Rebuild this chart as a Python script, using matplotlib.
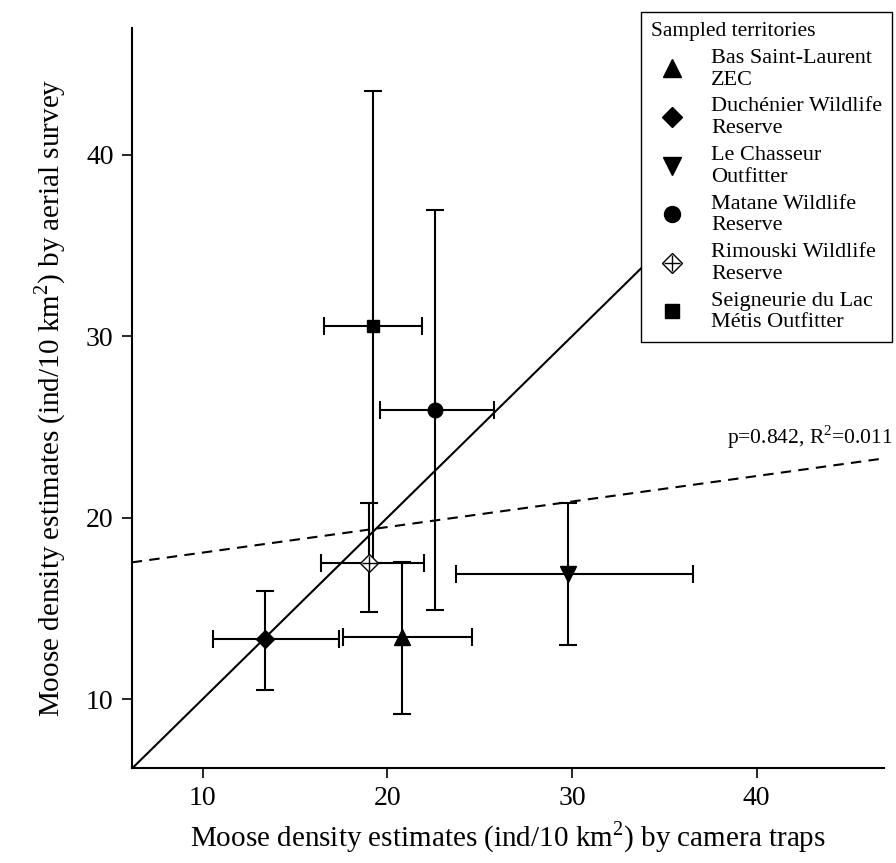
import matplotlib
matplotlib.use("Agg")
import matplotlib.pyplot as plt
from matplotlib.legend_handler import HandlerTuple
from matplotlib.lines import Line2D

plt.rcParams['font.family'] = ['Liberation Serif', 'DejaVu Serif']
plt.rcParams['mathtext.fontset'] = 'custom'
plt.rcParams['mathtext.rm'] = 'Liberation Serif'

# Data
territories = ["Bas Saint-Laurent\nZEC", "Duchénier Wildlife\nReserve",
               "Le Chasseur\nOutfitter", "Matane Wildlife\nReserve",
               "Rimouski Wildlife\nReserve", "Seigneurie du Lac\nMétis Outfitter"]
cam = [20.78, 13.39, 29.80, 22.59, 19.00, 19.20]
cam_lo = [17.61, 10.57, 23.71, 19.59, 16.40, 16.58]
cam_hi = [24.61, 17.39, 36.53, 25.80, 21.99, 21.90]
aer = [13.43, 13.30, 16.88, 25.94, 17.50, 30.57]
aer_lo = [9.17, 10.48, 12.97, 14.90, 14.79, 17.50]
aer_hi = [17.58, 15.98, 20.83, 36.98, 20.83, 43.52]
markers = ['^', 'D', 'v', 'o', 'D', 's']
msizes = [11.5, 9, 11.5, 10.5, 9, 8.5]

reg_slope = 0.1407
reg_intercept = 16.67
xlim = (6.16, 46.9)
ylim = (6.2, 47.0)

fig = plt.figure(figsize=(8.96, 8.63), dpi=100)
ax = fig.add_axes([0.147, 0.110, 0.8396, 0.8577])

handles = []
for i in range(len(cam)):
    xe = [[cam[i] - cam_lo[i]], [cam_hi[i] - cam[i]]]
    ye = [[aer[i] - aer_lo[i]], [aer_hi[i] - aer[i]]]
    ax.errorbar([cam[i]], [aer[i]], xerr=xe, yerr=ye, fmt='none',
                ecolor='black', elinewidth=1.5, capsize=6.5, capthick=1.5, zorder=2)
    if i == 4:
        ax.plot([cam[i]], [aer[i]], marker='D', ms=msizes[i], mfc='white',
                mec='black', mew=1.0, ls='none', zorder=3)
        ax.plot([cam[i]], [aer[i]], marker='+', ms=msizes[i] * 1.2, mec='black',
                mew=1.0, ls='none', zorder=4)
        h = (Line2D([], [], marker='D', ms=msizes[i] + 1, mfc='white', mec='black', mew=1.0, ls='none'),
             Line2D([], [], marker='+', ms=(msizes[i] + 1) * 1.2, mec='black', mew=1.0, ls='none'))
    else:
        ax.plot([cam[i]], [aer[i]], marker=markers[i], ms=msizes[i], color='black',
                ls='none', zorder=3)
        h = Line2D([], [], marker=markers[i], ms=msizes[i] + 1, color='black', ls='none')
    handles.append(h)

# 1:1 line
ax.plot([xlim[0], ylim[1]], [xlim[0], ylim[1]], color='black', lw=1.5, zorder=1)
# regression line
ax.plot(list(xlim), [reg_intercept + reg_slope * xlim[0], reg_intercept + reg_slope * xlim[1]],
        color='black', lw=1.5, ls=(0, (5, 3.5)), zorder=1)

ax.set_xlim(*xlim)
ax.set_ylim(*ylim)
ax.set_xticks([10, 20, 30, 40])
ax.set_yticks([10, 20, 30, 40])
for s in ['top', 'right']:
    ax.spines[s].set_visible(False)
for s in ['left', 'bottom']:
    ax.spines[s].set_linewidth(1.5)
ax.tick_params(direction='out', length=7, width=1.2, labelsize=20, pad=6)

ax.set_xlabel("Moose density estimates (ind/10 km$^2$) by camera traps", fontsize=21, labelpad=6)
ax.set_ylabel("Moose density estimates (ind/10 km$^2$) by aerial survey", fontsize=21, labelpad=13)

fig.text(893 / 896, 1 - 437 / 863, "p=0.842, R$^2$=0.011", fontsize=15.5,
         ha='right', va='center')

leg = fig.legend(handles, territories, title="Sampled territories",
                 loc='upper right', bbox_to_anchor=(892 / 896, 1 - 12 / 863),
                 borderaxespad=0,
                 fontsize=16, title_fontsize=15.5, frameon=True, fancybox=False,
                 edgecolor='black', framealpha=1, handler_map={tuple: HandlerTuple(ndivide=1, pad=0)},
                 handlelength=1.9, handletextpad=0.8, labelspacing=0.35, borderpad=0.45)
leg.get_frame().set_linewidth(1.0)
leg.set_zorder(10)
leg._legend_box.align = "left"

fig.savefig("out.png", dpi=100)
